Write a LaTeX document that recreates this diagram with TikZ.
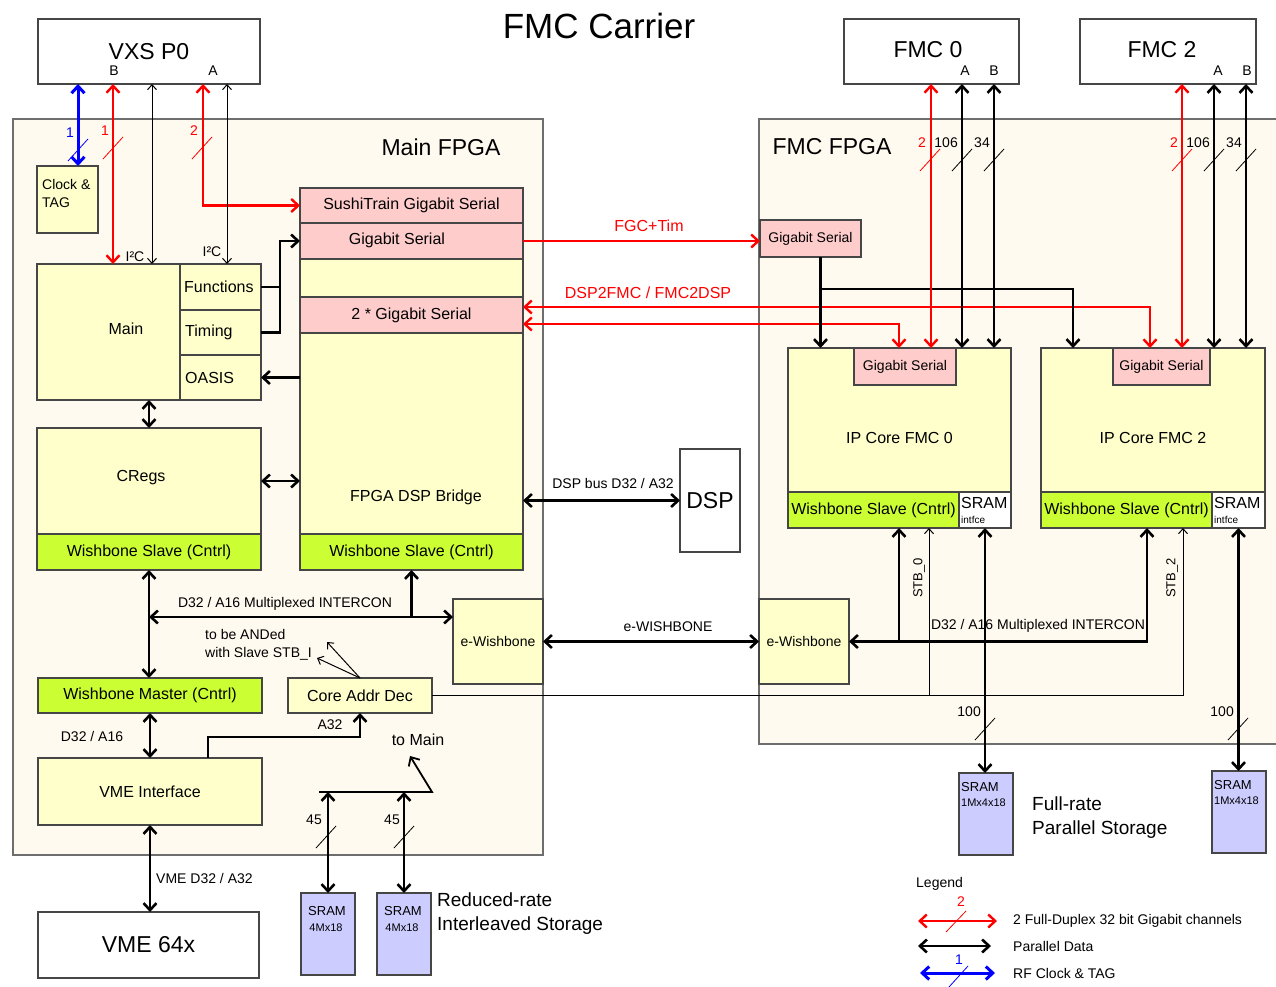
\documentclass[tikz,border=0pt]{standalone}
\usepackage{fontspec}
\setmainfont{Liberation Sans}
\usetikzlibrary{arrows.meta,calc,positioning}

\definecolor{cream}{RGB}{255,250,240}
\definecolor{coreyel}{RGB}{255,255,204}
\definecolor{wbgreen}{RGB}{204,255,51}
\definecolor{gbpink}{RGB}{255,204,204}
\definecolor{sramblue}{RGB}{204,204,255}
\definecolor{edge}{RGB}{70,70,70}
\definecolor{regedge}{RGB}{110,110,110}
\definecolor{linkred}{RGB}{255,0,0}
\definecolor{linkblue}{RGB}{0,0,255}

% bus width mark: slash across a link plus its width
\newcommand{\buswd}[4][black]{%
  \draw[#1,line width=0.8pt] ($(#2)+(-10,11)$) -- ($(#2)+(10,-11)$);
  \node[#1,anchor=east,inner sep=0pt,font=\fontsize{14}{16}\selectfont] (#4) at ($(#2)+(-4,-17)$) {#3};}

\begin{document}
\begin{tikzpicture}[x=1pt,y=-1pt,>={Straight Barb[length=7pt,width=13pt]},
    blk/.style={draw=edge,line width=1.2pt,anchor=north west,inner sep=0pt,outer sep=0pt,
      font=\fontsize{16}{19}\selectfont},
    core/.style={blk,fill=coreyel},
    wbs/.style={blk,fill=wbgreen},
    gbs/.style={blk,fill=gbpink},
    ext/.style={blk,fill=white,font=\fontsize{23}{27}\selectfont},
    sram/.style={blk,fill=sramblue,minimum width=54pt,minimum height=82pt},
    t10/.style={inner sep=0pt,font=\fontsize{10}{12}\selectfont},
    t11/.style={inner sep=0pt,font=\fontsize{11}{13}\selectfont},
    t13/.style={inner sep=0pt,font=\fontsize{13}{16}\selectfont},
    t14/.style={inner sep=0pt,font=\fontsize{14}{18}\selectfont},
    t16/.style={inner sep=0pt,font=\fontsize{16}{19}\selectfont},
    t19/.style={inner sep=0pt,font=\fontsize{19}{24}\selectfont},
    t23/.style={inner sep=0pt,font=\fontsize{23}{27}\selectfont},
    thk/.style={line width=2.6pt},
    med/.style={line width=1.8pt},
    gig/.style={line width=2.4pt,linkred},
    rf/.style={line width=3pt,linkblue},
    fine/.style={line width=1pt,>={Straight Barb[length=5pt,width=9pt]}}]
\useasboundingbox (0,0) rectangle (1276,987);
\fill[white] (0,0) rectangle (1276,987);

% the two FPGAs
\node[blk,fill=cream,draw=regedge,minimum width=530pt,minimum height=736pt] (mfpga) at (13,119) {};
\node[t23] (mfpgat) at (441,147) {Main FPGA};
\fill[cream] (759,119) rectangle (1276,744);
\draw[regedge,line width=1.2pt] (1280,119) -- (759,119) -- (759,744) -- (1280,744);
\node[t23] (ffpgat) at (832,147) {FMC FPGA};

\node[font=\fontsize{35}{40}\selectfont] (title) at (599,26) {FMC Carrier};

% connectors
\node[ext,minimum width=222pt,minimum height=65pt] (vxs) at (38,19) {VXS P0};
\node[t14] (vxsb) at (114,71) {B};
\node[t14] (vxsa) at (213,71) {A};
\node[ext,minimum width=175pt,minimum height=65pt] (fmc0) at (844,19) {};
\node[t23] (fmc0t) at (928,50) {FMC 0};
\node[t14] (fmc0a) at (965,71) {A};
\node[t14] (fmc0b) at (994,71) {B};
\node[ext,minimum width=176pt,minimum height=65pt] (fmc2) at (1080,19) {};
\node[t23] (fmc2t) at (1162,50) {FMC 2};
\node[t14] (fmc2a) at (1218,71) {A};
\node[t14] (fmc2b) at (1247,71) {B};

% Main FPGA blocks
\node[core,minimum width=61pt,minimum height=67pt] (clk) at (37,166) {};
\node[t14,anchor=north west,align=left] (clkt) at (42,179) {Clock \&\\TAG};
\node[core,minimum width=143pt,minimum height=136pt] (main) at (37,264) {};
\node[t16] (maint) at (126,329) {Main};
\node[core,minimum width=81pt,minimum height=46pt] (fun) at (180,264) {};
\node[core,minimum width=81pt,minimum height=45pt] (tim) at (180,310) {};
\node[core,minimum width=81pt,minimum height=45pt] (oasis) at (180,355) {};
\node[t16,anchor=west] (funt) at ([xshift=4]fun.west) {Functions};
\node[t16,anchor=west] (timt) at ([xshift=5]tim.west) {Timing};
\node[t16,anchor=west] (oasist) at ([xshift=5]oasis.west) {OASIS};
\node[core,minimum width=224pt,minimum height=106pt] (cregs) at (37,428) {};
\node[t16] (cregst) at (141,478) {CRegs};
\node[wbs,minimum width=224pt,minimum height=36pt] (crws) at (37,534) {Wishbone Slave (Cntrl)};

\node[gbs,minimum width=223pt,minimum height=35pt] (sushi) at (300,188) {SushiTrain Gigabit Serial};
\node[gbs,minimum width=223pt,minimum height=36pt] (gs1) at (300,223) {};
\node[t16] (gs1t) at (397,240) {Gigabit Serial};
\node[core,minimum width=223pt,minimum height=38pt] (bry) at (300,259) {};
\node[gbs,minimum width=223pt,minimum height=36pt] (gs2) at (300,297) {2 * Gigabit Serial};
\node[core,minimum width=223pt,minimum height=201pt] (bridge) at (300,333) {};
\node[t16] (bridget) at (416,497) {FPGA DSP Bridge};
\node[wbs,minimum width=223pt,minimum height=36pt] (brws) at (300,534) {Wishbone Slave (Cntrl)};

\node[wbs,minimum width=224pt,minimum height=35pt] (wbm) at (38,678) {Wishbone Master (Cntrl)};
\node[core,minimum width=144pt,minimum height=35pt] (cad) at (288,678) {Core Addr Dec};
\node[core,minimum width=224pt,minimum height=67pt] (vmei) at (38,758) {VME Interface};
\node[ext,minimum width=221pt,minimum height=66pt] (vme) at (38,912) {VME 64x};
\node[core,t14,minimum width=90pt,minimum height=85pt] (ewl) at (453,599) {e-Wishbone};
\node[ext,minimum width=60pt,minimum height=103pt] (dsp) at (680,449) {DSP};

\node[sram] (srama) at (301,893) {};
\node[sram] (sramb) at (377,893) {};
\node[t13] (sramat) at (327,911) {SRAM};
\node[t11] (sramam) at (326,928) {4Mx18};
\node[t13] (srambt) at (403,911) {SRAM};
\node[t11] (srambm) at (402,928) {4Mx18};
\node[t19,anchor=west,align=left] (redt) at (437,914) {Reduced-rate\\Interleaved Storage};

% FMC FPGA blocks
\node[gbs,t14,minimum width=101pt,minimum height=37pt] (gsf) at (760,220) {Gigabit Serial};
\node[core,minimum width=223pt,minimum height=180pt] (ip0) at (788,348) {IP Core FMC 0};
\node[gbs,t14,minimum width=102pt,minimum height=37pt] (ip0gs) at (854,348) {Gigabit Serial};
\node[wbs,minimum width=171pt,minimum height=36pt] (ip0ws) at (788,492) {Wishbone Slave (Cntrl)};
\node[blk,fill=white,minimum width=52pt,minimum height=36pt] (ip0si) at (959,492) {};
\node[t16,anchor=west] (ip0sia) at (961,503) {SRAM};
\node[t10,anchor=west] (ip0sib) at (961,520) {intfce};
\node[core,minimum width=224pt,minimum height=180pt] (ip2) at (1041,348) {IP Core FMC 2};
\node[gbs,t14,minimum width=97pt,minimum height=37pt] (ip2gs) at (1113,348) {Gigabit Serial};
\node[wbs,minimum width=171pt,minimum height=36pt] (ip2ws) at (1041,492) {Wishbone Slave (Cntrl)};
\node[blk,fill=white,minimum width=53pt,minimum height=36pt] (ip2si) at (1212,492) {};
\node[t16,anchor=west] (ip2sia) at (1214,503) {SRAM};
\node[t10,anchor=west] (ip2sib) at (1214,520) {intfce};
\node[core,t14,minimum width=90pt,minimum height=85pt] (ewr) at (759,599) {e-Wishbone};

\node[sram] (sramc) at (959,773) {};
\node[sram] (sramd) at (1212,771) {};
\node[t13,anchor=west] (sramct) at (961,787) {SRAM};
\node[t11,anchor=west] (sramcm) at (961,803) {1Mx4x18};
\node[t13,anchor=west] (sramdt) at (1214,785) {SRAM};
\node[t11,anchor=west] (sramdm) at (1214,801) {1Mx4x18};
\node[t19,anchor=west,align=left] (fullt) at (1032,818) {Full-rate\\Parallel Storage};

% tap points
\coordinate (vb1) at ([xshift=40]vxs.south west);
\coordinate (vb2) at ([xshift=75]vxs.south west);
\coordinate (vb3) at ([xshift=114]vxs.south west);
\coordinate (va1) at ([xshift=165]vxs.south west);
\coordinate (va2) at ([xshift=189]vxs.south west);
\coordinate (fj) at ([xshift=-20]gs1.west);
\coordinate (mc) at ([xshift=112]main.south west);
\coordinate (cw) at ([xshift=112]crws.south west);
\coordinate (ic) at ([xshift=112,yshift=-47]crws.south west);
\coordinate (wv) at ([xshift=112]wbm.south west);
\coordinate (vv) at ([xshift=112]vmei.south west);
\coordinate (va32) at ([xshift=170]vmei.north west);
\coordinate (and1) at ([xshift=-43,yshift=20]cad.north);
\coordinate (and2) at ([xshift=-33,yshift=36]cad.north);
\coordinate (rb) at ([xshift=18,yshift=101]srama.north west);
\coordinate (tomain) at ([xshift=109,yshift=137]srama.north west);
\coordinate (d2f) at ([yshift=8]gs2.east);
\coordinate (f2d) at ([yshift=-9]gs2.east);
\coordinate (gsd) at ([xshift=10]gsf.south);
\coordinate (f0r) at ([xshift=87]fmc0.south west);
\coordinate (f0a) at ([xshift=118]fmc0.south west);
\coordinate (f0b) at ([xshift=150]fmc0.south west);
\coordinate (f2r) at ([xshift=102]fmc2.south west);
\coordinate (f2a) at ([xshift=134]fmc2.south west);
\coordinate (f2b) at ([xshift=166]fmc2.south west);
\coordinate (w0) at ([xshift=111]ip0ws.south west);
\coordinate (w2) at ([xshift=106]ip2ws.south west);
\coordinate (s0) at ([xshift=-30]ip0ws.south east);
\coordinate (s2) at ([xshift=-29]ip2ws.south east);

% VXS P0 links
\draw[rf,<->] (vb1) -- (vb1 |- clk.north);
\draw[gig,<->] (vb2) -- (vb2 |- main.north);
\draw[fine,<->] (vb3) -- (vb3 |- main.north);
\draw[gig,<->] (va1) |- (sushi.west);
\draw[fine,<->] (va2) -- (va2 |- fun.north);
\node[t14] (i2ca) at (135,257) {I²C};
\node[t14] (i2cb) at (212,252) {I²C};
\buswd[linkblue]{78,150}{1}{bw1}
\buswd[linkred]{113,148}{1}{bw2}
\buswd[linkred]{202,148}{2}{bw3}

% inside Main FPGA
\draw[thk] (fun.east) -- (fun.east -| fj);
\draw[thk,->] (tim.east) -| (fj) -- (gs1.west);
\draw[thk,->] (oasis.east -| bridge.west) -- (oasis.east);
\draw[thk,<->] (mc) -- (mc |- cregs.north);
\draw[thk,<->] (cregs.east) -- (cregs.east -| bridge.west);
\draw[thk,<->] (cw) -- (cw |- wbm.north);
\draw[thk,<->] (ic) -- (ic -| ewl.west);
\draw[thk,->] (ic -| brws.south) -- (brws.south);
\node[t14] (icl) at (285,604) {D32 / A16 Multiplexed INTERCON};
\draw[thk,<->] (wv) -- (wv |- vmei.north);
\node[t14] (wvl) at (92,736) {D32 / A16};
\draw[thk,<->] (vv) -- (vv |- vme.north);
\node[t14,anchor=west] (vvl) at (156,878) {VME D32 / A32};
\draw[thk,->] (va32) -- ([yshift=21]va32) -| (cad.south);
\node[t14] (a32l) at (330,725) {A32};
\draw[fine,->] (cad.north) -- (and1);
\draw[fine,->] (cad.north) -- (and2);
\node[t14,anchor=west,align=left] (andt) at (205,645) {to be ANDed\\with Slave STB\_I};
\draw[med,->] (rb) -- ++(113,0) -- (tomain);
\node[t16] (tomt) at (418,740) {to Main};
\draw[thk,<->] (srama.north) -- (srama.north |- rb);
\draw[thk,<->] (sramb.north) -- (sramb.north |- rb);
\buswd{326,837}{45}{bw4}
\buswd{404,837}{45}{bw5}

% between the FPGAs
\draw[thk,<->] (dsp.west -| bridge.east) -- (dsp.west);
\node[t14] (dspl) at (613,483) {DSP bus D32 / A32};
\draw[gig,->] (gs1.east) -- (gs1.east -| gsf.west);
\node[t16,linkred] (fgcl) at (649,226) {FGC+Tim};
\draw[gig,<->] (d2f) -| ([xshift=37]ip2gs.north west);
\draw[gig,<->] (f2d) -| ([xshift=45]ip0gs.north west);
\node[t16,linkred] (d2fl) at (648,293) {DSP2FMC / FMC2DSP};
\draw[thk,<->] (ewl.east) -- (ewr.west);
\node[t14] (ewbl) at (668,627) {e-WISHBONE};
\draw[fine,->] (cad.east) -| (s2);
\draw[fine,->] (s0 |- cad.east) -- (s0);
\node[t13,rotate=90] (stb0) at (919,578) {STB\_0};
\node[t13,rotate=90] (stb2) at (1172,578) {STB\_2};

% inside FMC FPGA
\draw[thk,->] (gsd) -- (gsd |- ip0.north);
\draw[thk,->] ([yshift=-32]gsd) -| ([xshift=32]ip2.north west);
\draw[gig,<->] (f0r) -- (f0r |- ip0gs.north);
\draw[thk,<->] (f0a) -- (f0a |- ip0.north);
\draw[thk,<->] (f0b) -- (f0b |- ip0.north);
\draw[gig,<->] (f2r) -- (f2r |- ip2gs.north);
\draw[thk,<->] (f2a) -- (f2a |- ip2.north);
\draw[thk,<->] (f2b) -- (f2b |- ip2.north);
\buswd[linkred]{930,160}{2}{bw6}
\buswd{962,160}{106}{bw7}
\buswd{994,160}{34}{bw8}
\buswd[linkred]{1182,160}{2}{bw9}
\buswd{1214,160}{106}{bw10}
\buswd{1246,160}{34}{bw11}
\draw[thk,<->] (ewr.east) -| (w2);
\draw[thk,->] (w0 |- ewr.east) -- (w0);
\node[t14] (icr) at (1038,626) {D32 / A16 Multiplexed INTERCON};
\draw[thk,<->] (ip0si.south) -- (ip0si.south |- sramc.north);
\draw[thk,<->] (ip2si.south) -- (ip2si.south |- sramd.north);
\buswd{985,729}{100}{bw12}
\buswd{1238,729}{100}{bw13}

% legend
\node[t14,anchor=west] (lgd) at (916,884) {Legend};
\node[t14,anchor=west] (lg1) at (1013,921) {2 Full-Duplex 32 bit Gigabit channels};
\node[t14,anchor=west] (lg2) at (1013,946) {Parallel Data};
\node[t14,anchor=west] (lg3) at (1013,973) {RF Clock \& TAG};
\draw[gig,<->] ([xshift=-16]lg1.west) -- ++(-79,0);
\draw[thk,<->] ([xshift=-22]lg2.west) -- ++(-73,0);
\draw[rf,<->] ([xshift=-18]lg3.west) -- ++(-75,0);
\draw[linkred,line width=0.8pt] (946,932) -- (966,911);
\node[t14,linkred] (lgn2) at (961,902) {2};
\draw[linkblue,line width=0.8pt] (949,987) -- (968,966);
\node[t14,linkblue] (lgn1) at (959,960) {1};
\end{tikzpicture}
\end{document}
